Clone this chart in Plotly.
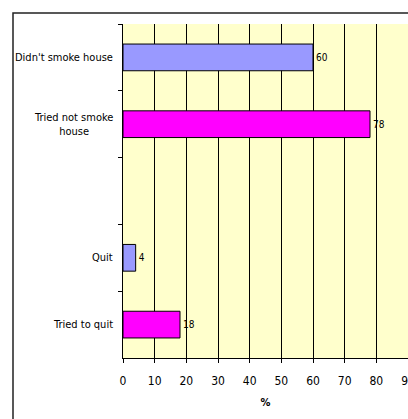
import plotly.graph_objects as go

categories = ["Didn't smoke house", "Tried not smoke<br>house", " ", "Quit", "Tried to quit"]
bar_categories = ["Didn't smoke house", "Tried not smoke<br>house", "Quit", "Tried to quit"]
values = [60, 78, 4, 18]
colors = ["#9999FF", "#FF00FF", "#9999FF", "#FF00FF"]
x_ticks = [0, 10, 20, 30, 40, 50, 60, 70, 80, 90]

FONT = "DejaVu Sans Condensed, Liberation Sans, Arial, sans-serif"

W, H = 408, 419
ML, MR, MT, MB = 123, 0, 24, 61
pw = W - ML - MR
ph = H - MT - MB

fig = go.Figure()
fig.add_trace(go.Bar(
    y=bar_categories, x=values, orientation="h",
    marker=dict(color=colors, line=dict(color="black", width=1)),
    width=0.4,
    text=[str(v) for v in values], textposition="outside",
    textfont=dict(family=FONT, size=10, color="black"),
    cliponaxis=False, showlegend=False,
))

annotations = []
for c in bar_categories:
    annotations.append(dict(
        x=(115 - ML) / pw, xref="paper", y=c, yref="y",
        text=c, showarrow=False, xanchor="right", align="center",
        font=dict(family=FONT, size=11, color="black"),
    ))

fig.update_layout(
    width=W, height=H,
    margin=dict(l=ML, r=MR, t=MT, b=MB, autoexpand=False),
    paper_bgcolor="white", plot_bgcolor="#FFFFCC",
    bargap=0.6,
    font=dict(family=FONT, color="black"),
    annotations=annotations,
    shapes=[dict(
        type="rect", xref="paper", yref="paper",
        x0=(13 - ML) / pw, x1=1.2,
        y0=-0.5, y1=(H - 13 - MB) / ph,
        line=dict(color="#222222", width=1.5), layer="below",
    )],
    xaxis=dict(
        range=[0, 90], tickvals=x_ticks, ticktext=[str(t) for t in x_ticks],
        showgrid=True, gridcolor="black", gridwidth=1, zeroline=False,
        showline=True, linecolor="black", linewidth=1,
        ticks="outside", ticklen=4, tickcolor="black",
        ticklabeloverflow="allow", ticklabelstandoff=8,
        tickfont=dict(family=FONT, size=12),
        title=dict(text="<b>%</b>", font=dict(family=FONT, size=11), standoff=10),
    ),
    yaxis=dict(
        type="category", categoryorder="array", categoryarray=categories,
        range=[4.5, -0.5], tickson="boundaries",
        showticklabels=False, showgrid=False, zeroline=False,
        showline=True, linecolor="black", linewidth=1,
        ticks="outside", ticklen=4, tickcolor="black",
    ),
)

fig.write_html("out.html")
